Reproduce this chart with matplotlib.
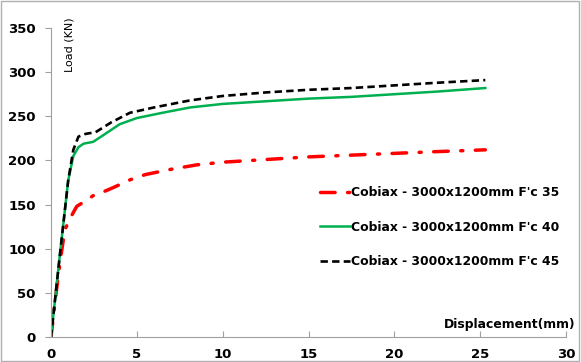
import matplotlib.pyplot as plt
import numpy as np

# displacement (mm) / load (kN)
x35 = [0, 0.3, 0.52, 0.8, 1.1, 1.5, 2.0, 2.45, 3.0, 3.6, 4.6, 5.5, 7.0, 8.5, 10, 12.5, 15, 17.5, 20, 22.5, 25.3]
y35 = [0, 50, 84, 121, 134, 148, 154, 160, 164, 169, 178, 184, 190, 195, 198, 201, 204, 206, 208, 210, 212]

x40 = [0, 0.5, 1.0, 1.3, 1.6, 1.9, 2.45, 3.0, 4.0, 5.0, 6.5, 8.1, 10, 12.5, 15, 17.5, 20, 22.5, 25.3]
y40 = [0, 90, 177, 205, 215, 219, 221, 228, 241, 248, 254, 260, 264, 267, 270, 272, 275, 278, 282]

x45 = [0, 0.5, 1.0, 1.3, 1.6, 2.0, 2.6, 3.5, 4.6, 6.0, 8.1, 10, 12.5, 15, 17.5, 20, 22.5, 25.3]
y45 = [0, 90, 177, 212, 227, 230, 232, 243, 254, 260, 268, 273, 277, 280, 282, 285, 288, 291]

labels = ["Cobiax - 3000x1200mm F'c 35",
          "Cobiax - 3000x1200mm F'c 40",
          "Cobiax - 3000x1200mm F'c 45"]

plt.rcParams['font.family'] = 'DejaVu Sans'

fig = plt.figure(figsize=(5.81, 3.62), dpi=100)
ax = fig.add_axes([51/581, 25/362, 515/581, 309/362])

ax.plot(x35, y35, color='#ff0000', lw=2.5, dashes=(4.2, 3.6, 0.6, 3.6),
        solid_capstyle='round', dash_capstyle='round', label=labels[0])
ax.plot(x40, y40, color='#00b050', lw=1.8, label=labels[1])
ax.plot(x45, y45, color='black', lw=1.9, dashes=(2.8, 1.6), label=labels[2])

ax.set_xlim(0, 30)
ax.set_ylim(0, 350)
ax.set_xticks(range(0, 31, 5))
ax.set_yticks(range(0, 351, 50))
for s in ['top', 'right']:
    ax.spines[s].set_visible(False)
for s in ['left', 'bottom']:
    ax.spines[s].set_color('#a0a0a0')
ax.tick_params(axis='both', colors='#a0a0a0', labelcolor='black', labelsize=9.5, length=4)
ax.tick_params(axis='y', pad=7)
ax.tick_params(axis='x', direction='in', pad=8)
for t in ax.get_xticklabels() + ax.get_yticklabels():
    t.set_fontweight('bold')

ax.text(0.026, 1.033, 'Load (KN)', transform=ax.transAxes, rotation=90,
        ha='left', va='top', fontsize=8)
ax.text(1.018, 0.02, 'Displacement(mm)', transform=ax.transAxes,
        ha='right', va='bottom', fontsize=8.9, fontweight='bold')

ax.legend(loc='center left', bbox_to_anchor=(0.50, 0.355), frameon=False,
          prop={'size': 8.9, 'weight': 'bold'}, handlelength=2.42,
          handletextpad=0.1, labelspacing=1.75)

fig.patches.append(plt.Rectangle((0.002, 0.003), 0.995, 0.994, transform=fig.transFigure,
                                 fill=False, edgecolor='#b0b0b0', lw=1))

plt.savefig('out.png', dpi=100)
